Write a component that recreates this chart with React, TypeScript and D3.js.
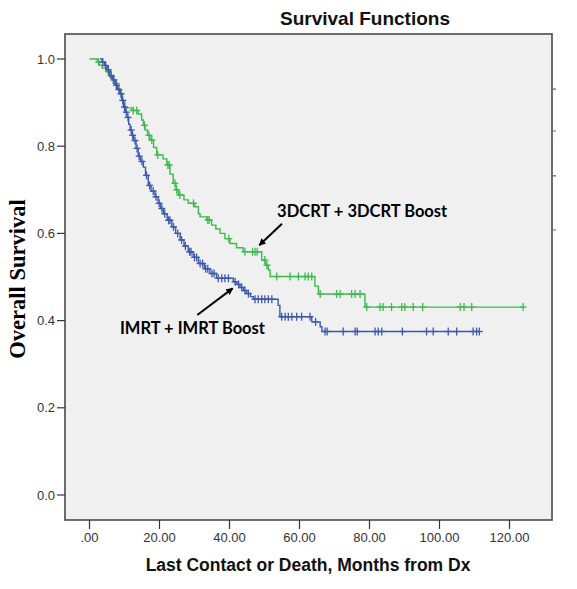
import React, { useEffect, useRef } from 'react'
import * as d3 from 'd3'

// Kaplan-Meier steps: time (months) of each drop and survival after it
const imrtTimes = [3.0, 3.6, 4.3, 5.0, 5.8, 6.6, 7.3, 8.0, 8.7, 9.2, 9.7, 10.2, 10.7, 11.2, 11.6, 12.1, 12.6, 13.3, 13.9, 14.6, 15.4, 16.0, 16.8, 17.6, 18.7, 19.6, 20.3, 21.1, 22.2, 23.5, 24.6, 25.9, 27.0, 28.2, 29.6, 31.1, 32.8, 34.4, 36.3, 41.1, 42.1, 43.0, 44.0, 44.9, 46.0, 46.8, 53.9, 54.4, 63.5, 65.9, 66.4]
const imrtSurv = [1.0, 0.993, 0.985, 0.975, 0.962, 0.952, 0.94, 0.93, 0.92, 0.905, 0.89, 0.878, 0.866, 0.85, 0.837, 0.825, 0.813, 0.795, 0.777, 0.765, 0.752, 0.733, 0.71, 0.697, 0.684, 0.669, 0.657, 0.645, 0.63, 0.615, 0.6, 0.585, 0.571, 0.558, 0.545, 0.531, 0.519, 0.508, 0.497, 0.489, 0.483, 0.476, 0.469, 0.462, 0.455, 0.449, 0.435, 0.409, 0.397, 0.386, 0.375]
const imrtCensored = [3.8, 4.6, 5.4, 6.2, 7.0, 7.7, 8.4, 9.0, 9.5, 10.0, 10.5, 11.0, 11.9, 12.3, 13.0, 13.6, 14.2, 15.0, 16.3, 17.2, 18.2, 19.0, 19.9, 20.7, 21.5, 22.6, 23.0, 24.0, 25.2, 26.3, 27.4, 28.6, 29.0, 30.0, 30.6, 31.6, 32.3, 33.2, 33.8, 35.0, 35.6, 36.8, 37.8, 38.7, 39.7, 41.6, 42.6, 43.5, 44.4, 45.4, 47.3, 48.2, 49.2, 50.1, 51.1, 52.1, 54.9, 55.9, 56.8, 57.8, 59.2, 60.6, 63.0, 64.6, 67.3, 67.9, 72.5, 75.9, 76.5, 81.6, 82.5, 83.5, 89.4, 96.3, 98.2, 102.5, 104.9, 109.6, 110.6, 111.4]
const imrtEnd = 111.4

const crtTimes = [0, 2.2, 2.8, 3.6, 4.9, 5.8, 6.8, 7.8, 8.7, 9.4, 10.1, 12.1, 13.9, 14.9, 15.4, 15.9, 16.6, 17.3, 18.3, 19.2, 21.0, 22.1, 23.0, 23.9, 24.7, 25.4, 27.0, 28.2, 30.1, 31.1, 31.6, 33.5, 34.9, 36.1, 37.3, 38.7, 40.1, 42.0, 43.9, 49.2, 50.3, 51.1, 51.6, 64.4, 65.4, 78.7]
const crtSurv = [1.0, 0.993, 0.986, 0.979, 0.971, 0.958, 0.944, 0.932, 0.921, 0.905, 0.888, 0.882, 0.874, 0.86, 0.848, 0.837, 0.825, 0.814, 0.797, 0.78, 0.771, 0.757, 0.736, 0.715, 0.7, 0.688, 0.677, 0.669, 0.661, 0.645, 0.638, 0.631, 0.619, 0.61, 0.6, 0.588, 0.577, 0.567, 0.558, 0.539, 0.527, 0.516, 0.501, 0.479, 0.461, 0.431]
const crtCensored = [2.6, 5.4, 7.6, 12.5, 13.5, 15.7, 17.0, 17.8, 19.5, 22.4, 22.8, 24.4, 24.9, 25.8, 29.7, 33.8, 34.2, 39.8, 44.4, 46.6, 47.3, 47.9, 50.1, 50.7, 53.5, 57.3, 59.7, 61.6, 62.5, 63.5, 65.9, 70.6, 71.6, 74.9, 75.9, 77.3, 79.2, 83.0, 83.9, 86.3, 89.2, 90.1, 92.5, 95.2, 105.9, 107.0, 109.2, 123.9]
const crtEnd = 123.9

const xTicks = [0, 20, 40, 60, 80, 100, 120]
const yTicks = [0, 0.2, 0.4, 0.6, 0.8, 1.0]

// legend stubs peeking past the right frame
const stubValues = [0.931, 0.835, 0.732, 0.608]
const stubGroups = ['imrt', 'crt', 'imrt', 'crt']

// label text, start [month, survival], arrow tail and tip
const labelTexts = ['3DCRT + 3DCRT Boost', 'IMRT + IMRT Boost']
const labelAt = [[53.6, 0.638], [8.7, 0.369]]
const arrowFrom = [[55.0, 0.622], [30.8, 0.413]]
const arrowTo = [[48.5, 0.573], [40.9, 0.474]]

const colors = { imrt: '#3e58ac', crt: '#3dbb4c' }

const W = 577
const H = 589
const frame = { left: 65, right: 552, top: 34, bottom: 520 }

export default function App() {
  const ref = useRef<SVGSVGElement>(null)

  useEffect(() => {
    const svg = d3.select(ref.current)
    svg.selectAll('*').remove()

    const x = d3.scaleLinear().domain([0, 120]).range([89.5, 509.5])
    const y = d3.scaleLinear().domain([0, 1]).range([495, 59])

    svg
      .append('rect')
      .attr('x', frame.left)
      .attr('y', frame.top)
      .attr('width', frame.right - frame.left)
      .attr('height', frame.bottom - frame.top)
      .attr('fill', '#f0f0f0')

    const series = [
      { key: 'crt', times: crtTimes, surv: crtSurv, cens: crtCensored, end: crtEnd },
      { key: 'imrt', times: imrtTimes, surv: imrtSurv, cens: imrtCensored, end: imrtEnd }
    ]

    const line = d3
      .line<[number, number]>()
      .x(d => x(d[0]))
      .y(d => y(d[1]))
      .curve(d3.curveStepAfter)

    series.forEach(s => {
      const pts: [number, number][] = s.times.map((t, i) => [t, s.surv[i]])
      pts.push([s.end, s.surv[s.surv.length - 1]])
      const survAt = (t: number) => {
        let v = s.surv[0]
        s.times.forEach((tt, i) => {
          if (tt <= t) v = s.surv[i]
        })
        return v
      }
      const color = colors[s.key as 'crt' | 'imrt']

      svg
        .append('path')
        .attr('d', line(pts))
        .attr('fill', 'none')
        .attr('stroke', color)
        .attr('stroke-width', 1.4)

      const marks = svg
        .append('g')
        .selectAll('g')
        .data(s.cens)
        .enter()
        .append('g')
        .attr('transform', d => 'translate(' + x(d) + ',' + y(survAt(d)) + ')')
        .attr('stroke', color)
        .attr('stroke-width', 1.3)
      marks.append('line').attr('x1', 0).attr('x2', 0).attr('y1', -4).attr('y2', 4)
      marks.append('line').attr('x1', -3.5).attr('x2', 3.5).attr('y1', 0).attr('y2', 0)
    })

    // frame
    svg
      .append('rect')
      .attr('x', frame.left)
      .attr('y', frame.top)
      .attr('width', frame.right - frame.left)
      .attr('height', frame.bottom - frame.top)
      .attr('fill', 'none')
      .attr('stroke', '#5e5e5e')
      .attr('stroke-width', 1.8)

    svg
      .append('g')
      .selectAll('line')
      .data(stubValues)
      .enter()
      .append('line')
      .attr('x1', frame.right + 1)
      .attr('x2', frame.right + 4)
      .attr('y1', d => y(d))
      .attr('y2', d => y(d))
      .attr('stroke', (d, i) => colors[stubGroups[i] as 'crt' | 'imrt'])
      .attr('stroke-width', 1.2)

    // y axis
    const yAxis = svg.append('g')
    yAxis
      .selectAll('line')
      .data(yTicks)
      .enter()
      .append('line')
      .attr('x1', frame.left - 8)
      .attr('x2', frame.left)
      .attr('y1', d => y(d))
      .attr('y2', d => y(d))
      .attr('stroke', '#333')
      .attr('stroke-width', 1.2)
    yAxis
      .selectAll('text')
      .data(yTicks)
      .enter()
      .append('text')
      .attr('x', frame.left - 10)
      .attr('y', d => y(d))
      .attr('dy', '0.36em')
      .attr('text-anchor', 'end')
      .attr('font-family', 'Liberation Sans, Arial, sans-serif')
      .attr('font-size', 13)
      .attr('fill', '#333')
      .text(d => d.toFixed(1))

    // x axis
    const xAxis = svg.append('g')
    xAxis
      .selectAll('line')
      .data(xTicks)
      .enter()
      .append('line')
      .attr('x1', d => x(d))
      .attr('x2', d => x(d))
      .attr('y1', frame.bottom)
      .attr('y2', frame.bottom + 9)
      .attr('stroke', '#333')
      .attr('stroke-width', 1.2)
    xAxis
      .selectAll('text')
      .data(xTicks)
      .enter()
      .append('text')
      .attr('x', d => x(d))
      .attr('y', 541.5)
      .attr('text-anchor', 'middle')
      .attr('font-family', 'Liberation Sans, Arial, sans-serif')
      .attr('font-size', 13)
      .attr('fill', '#333')
      .text(d => (d === 0 ? '.00' : d.toFixed(2)))

    svg
      .append('text')
      .attr('x', 308)
      .attr('y', 571)
      .attr('text-anchor', 'middle')
      .attr('font-family', 'Liberation Sans, Arial, sans-serif')
      .attr('font-weight', 'bold')
      .attr('font-size', 17.5)
      .attr('fill', '#111')
      .text('Last Contact or Death, Months from Dx')

    svg
      .append('text')
      .attr('x', 365)
      .attr('y', 25)
      .attr('text-anchor', 'middle')
      .attr('font-family', 'Liberation Sans, Arial, sans-serif')
      .attr('font-weight', 'bold')
      .attr('font-size', 19)
      .attr('fill', '#111')
      .text('Survival Functions')

    svg
      .append('text')
      .attr('transform', 'translate(25,279) rotate(-90)')
      .attr('text-anchor', 'middle')
      .attr('font-family', 'Liberation Serif, Times New Roman, serif')
      .attr('font-weight', 'bold')
      .attr('font-size', 22.5)
      .attr('fill', '#000')
      .text('Overall Survival')

    // annotations with arrows
    const defs = svg.append('defs')
    defs
      .append('marker')
      .attr('id', 'arrowhead')
      .attr('viewBox', '0 0 10 10')
      .attr('refX', 9)
      .attr('refY', 5)
      .attr('markerWidth', 7)
      .attr('markerHeight', 7)
      .attr('markerUnits', 'userSpaceOnUse')
      .attr('orient', 'auto')
      .append('path')
      .attr('d', 'M0,0L10,5L0,10Z')
      .attr('fill', '#000')

    labelTexts.forEach((t, i) => {
      svg
        .append('text')
        .attr('x', x(labelAt[i][0]))
        .attr('y', y(labelAt[i][1]))
        .attr('font-family', 'Lato, Open Sans, sans-serif')
        .attr('font-weight', 'bold')
        .attr('font-size', 16.5)
        .attr('fill', '#000')
        .text(t)
      svg
        .append('line')
        .attr('x1', x(arrowFrom[i][0]))
        .attr('y1', y(arrowFrom[i][1]))
        .attr('x2', x(arrowTo[i][0]))
        .attr('y2', y(arrowTo[i][1]))
        .attr('stroke', '#000')
        .attr('stroke-width', 2)
        .attr('marker-end', 'url(#arrowhead)')
    })
  }, [])

  return (
    <svg
      ref={ref}
      width={W}
      height={H}
      style={{ position: 'absolute', left: 0, top: 0, background: '#fff' }}
    />
  )
}
